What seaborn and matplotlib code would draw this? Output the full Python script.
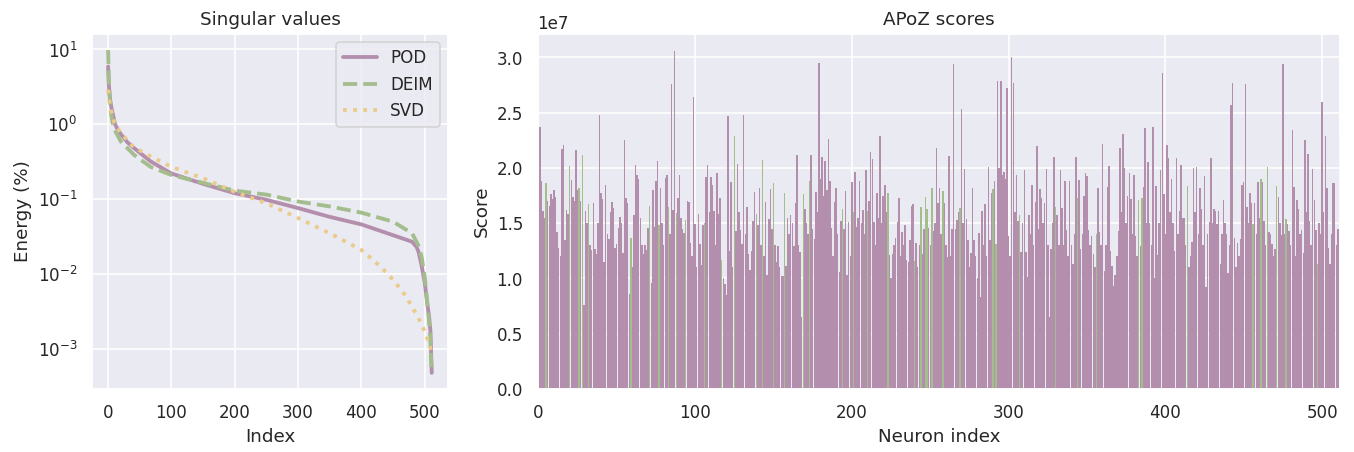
import numpy as np
import pandas as pd
import matplotlib
matplotlib.use("Agg")
import matplotlib.pyplot as plt
import seaborn as sns

# Nord-like colours used in the reference
POD_COLOR = "#B48EAD"
DEIM_COLOR = "#A3BE8C"
SVD_COLOR = "#EBCB8B"

# Singular value curves (energy %)
pod_idx = [0, 1, 3, 5, 8, 11, 15, 20, 30, 41, 67, 100, 150, 200, 250, 300, 350, 400, 450, 480, 487, 490, 495, 500, 504, 507, 509, 511]
pod_energy = [5.9, 3.5, 2.2, 1.7, 1.3, 1.0, 0.85, 0.74, 0.58, 0.48, 0.32, 0.22, 0.16, 0.12, 0.098, 0.076, 0.058, 0.046, 0.033, 0.027, 0.023, 0.020, 0.013, 0.0076, 0.004, 0.0026, 0.0017, 0.00048]

deim_idx = [0, 1, 2, 4, 7, 10, 20, 41, 67, 100, 150, 200, 250, 300, 350, 400, 450, 480, 490, 495, 500, 505, 508, 511]
deim_energy = [9.8, 4.5, 2.5, 1.5, 1.05, 0.85, 0.59, 0.39, 0.27, 0.21, 0.165, 0.13, 0.115, 0.093, 0.080, 0.066, 0.050, 0.035, 0.024, 0.017, 0.009, 0.0034, 0.0018, 0.00048]

svd_idx = [0, 2, 5, 10, 20, 30, 40, 60, 100, 150, 200, 250, 300, 350, 400, 430, 450, 470, 490, 500, 505, 510]
svd_energy = [2.9, 2.0, 1.5, 1.05, 0.76, 0.62, 0.50, 0.40, 0.27, 0.19, 0.125, 0.088, 0.056, 0.035, 0.021, 0.0126, 0.0084, 0.0051, 0.0026, 0.0017, 0.0013, 0.00095]

# APoZ score per neuron, in units of 1e7 (16 neurons per row)
apoz_e7 = [
    1.71, 2.37, 1.88, 1.61, 1.55, 1.86, 1.70, 1.66, 1.76, 1.72, 1.80, 1.74, 1.42, 1.28, 1.20, 2.17,
    2.21, 1.35, 1.62, 1.58, 2.02, 1.89, 1.74, 1.70, 2.16, 1.80, 1.82, 1.70, 2.12, 0.76, 1.61, 1.50,
    1.67, 1.30, 1.26, 1.68, 1.27, 1.22, 1.50, 2.48, 1.77, 1.72, 1.15, 1.85, 1.40, 1.36, 1.60, 1.69,
    1.64, 1.28, 1.31, 1.46, 1.56, 1.50, 1.23, 2.25, 1.73, 1.68, 0.86, 1.37, 1.10, 1.57, 2.03, 1.94,
    1.90, 1.55, 1.30, 1.22, 1.30, 1.26, 1.46, 1.66, 0.96, 1.80, 1.47, 1.88, 2.06, 1.48, 1.82, 1.50,
    1.30, 1.91, 1.94, 1.65, 1.40, 2.76, 1.62, 3.06, 1.59, 1.73, 1.94, 1.55, 1.45, 1.41, 1.53, 1.70,
    1.69, 1.32, 1.20, 2.64, 1.49, 1.10, 1.58, 1.31, 1.12, 1.48, 1.50, 1.92, 2.03, 1.60, 1.92, 1.85,
    1.61, 1.30, 1.95, 1.58, 1.73, 1.17, 1.00, 0.95, 0.85, 2.47, 1.25, 1.87, 1.10, 2.29, 1.43, 2.04,
    1.60, 1.44, 1.31, 2.48, 1.40, 1.65, 1.22, 1.08, 1.25, 1.52, 1.78, 1.58, 1.48, 1.82, 1.30, 2.07,
    1.20, 1.69, 1.03, 1.54, 1.81, 1.45, 1.86, 1.30, 1.15, 1.29, 1.10, 1.02, 1.02, 1.77, 1.11, 1.55,
    1.40, 1.57, 1.50, 1.29, 1.68, 2.12, 1.30, 1.24, 0.65, 1.76, 1.63, 1.50, 1.40, 1.88, 2.12, 1.45,
    1.36, 1.78, 1.60, 2.95, 1.90, 2.10, 1.75, 2.06, 1.80, 2.26, 1.88, 1.46, 1.20, 1.69, 1.82, 1.40,
    1.06, 1.52, 1.63, 1.45, 1.79, 1.03, 1.51, 1.20, 1.87, 1.60, 1.96, 1.47, 1.55, 1.88, 1.50, 1.62,
    1.40, 1.98, 1.61, 1.70, 2.14, 2.08, 1.51, 1.30, 1.77, 1.55, 2.29, 1.50, 1.75, 1.85, 1.60, 1.77,
    1.21, 1.00, 1.22, 1.30, 1.37, 1.51, 1.73, 1.20, 1.42, 1.30, 1.48, 1.17, 1.15, 1.35, 1.66, 1.67,
    1.16, 1.32, 1.10, 1.30, 1.65, 1.22, 1.45, 1.74, 1.63, 1.46, 1.30, 1.82, 1.43, 1.50, 2.18, 1.68,
    1.82, 1.40, 1.79, 1.68, 1.30, 1.19, 2.11, 1.20, 1.45, 2.94, 1.45, 1.53, 1.60, 1.64, 2.53, 1.50,
    1.99, 1.54, 1.35, 1.10, 1.23, 1.82, 1.35, 1.20, 1.00, 1.41, 0.83, 1.61, 1.30, 1.67, 1.20, 2.01,
    1.35, 1.77, 1.81, 1.88, 1.31, 2.79, 2.00, 2.79, 1.94, 1.96, 1.90, 2.72, 1.38, 1.20, 3.00, 2.77,
    1.60, 1.94, 1.52, 1.57, 1.24, 1.50, 1.98, 1.24, 1.01, 1.57, 1.40, 1.85, 1.30, 1.69, 2.20, 1.45,
    1.81, 1.73, 1.50, 1.68, 1.99, 1.30, 0.65, 1.27, 1.50, 2.10, 1.65, 1.57, 1.30, 1.98, 1.64, 1.30,
    1.88, 1.44, 1.20, 1.88, 1.30, 1.13, 1.40, 2.10, 1.73, 1.89, 1.27, 1.40, 1.75, 1.95, 1.93, 1.44,
    1.30, 1.38, 1.22, 1.10, 1.40, 1.82, 1.42, 1.30, 2.22, 1.07, 1.30, 1.83, 2.02, 1.25, 1.11, 0.93,
    1.03, 1.20, 1.43, 2.18, 1.60, 2.31, 2.00, 1.50, 1.75, 1.95, 1.72, 1.40, 1.94, 1.38, 1.20, 1.71,
    1.29, 1.73, 1.83, 2.36, 1.50, 2.05, 1.50, 1.30, 2.37, 1.00, 1.84, 1.21, 1.50, 1.98, 2.86, 1.76,
    1.40, 2.21, 2.09, 1.60, 1.90, 1.50, 1.25, 2.09, 1.40, 1.61, 2.03, 1.55, 1.55, 1.30, 1.84, 1.10,
    1.20, 1.33, 2.00, 1.60, 2.01, 1.40, 1.82, 1.63, 1.30, 1.93, 0.92, 1.40, 1.51, 2.09, 1.50, 1.63,
    1.61, 1.49, 1.61, 1.13, 1.40, 1.71, 1.50, 1.40, 1.05, 1.30, 2.57, 2.77, 1.37, 1.10, 1.32, 1.20,
    1.36, 1.85, 1.87, 2.76, 1.65, 1.50, 1.77, 1.68, 1.49, 1.68, 1.40, 1.87, 1.55, 1.90, 1.87, 1.52,
    1.30, 2.01, 1.42, 1.40, 1.31, 1.20, 1.27, 1.84, 1.74, 1.50, 1.39, 2.94, 1.40, 1.54, 1.49, 1.43,
    1.30, 2.34, 1.83, 1.20, 1.71, 1.63, 1.40, 1.44, 1.23, 2.25, 1.60, 2.13, 1.52, 1.30, 1.99, 1.71,
    1.44, 1.13, 1.50, 1.40, 2.60, 1.60, 2.29, 1.82, 1.28, 1.13, 1.40, 1.86, 1.86, 1.30, 1.45, 2.26,
]

# neurons drawn in green
selected = [5, 20, 26, 28, 32, 59, 71, 77, 83, 88, 94, 106, 117, 125, 139, 143, 150, 157, 169, 173,
            194, 201, 210, 223, 240, 244, 247, 248, 251, 258, 269, 290, 292, 307, 330, 344, 356,
            383, 385, 414, 456, 461, 465, 471, 477, 497]

sns.set_theme(style="darkgrid")

fig = plt.figure(figsize=(12.31, 4.11), dpi=110)
ax1 = fig.add_axes([0.0679, 0.1394, 0.2629, 0.7854])
ax2 = fig.add_axes([0.397, 0.1394, 0.5927, 0.7854])

# Left: singular values
sns.lineplot(x=pod_idx, y=pod_energy, ax=ax1, color=POD_COLOR, lw=2.5, label="POD")
sns.lineplot(x=deim_idx, y=deim_energy, ax=ax1, color=DEIM_COLOR, lw=2.5, linestyle="--", label="DEIM")
sns.lineplot(x=svd_idx, y=svd_energy, ax=ax1, color=SVD_COLOR, lw=2.5, linestyle=":", label="SVD")
ax1.set_yscale("log")
ax1.set_title("Singular values")
ax1.set_xlabel("Index")
ax1.set_ylabel("Energy (%)")
ax1.set_xticks([0, 100, 200, 300, 400, 500])
ax1.legend(loc="upper right", fontsize=11)

# Right: APoZ scores
scores = np.array(apoz_e7) * 1e7
neuron = np.arange(len(scores))
group = np.where(np.isin(neuron, selected), "selected", "other")
df = pd.DataFrame({"neuron": neuron, "score": scores, "group": group})

sns.barplot(data=df, x="neuron", y="score", hue="group", native_scale=True, dodge=False,
            palette={"other": POD_COLOR, "selected": DEIM_COLOR}, saturation=1,
            errorbar=None, legend=False, linewidth=0, width=0.92, ax=ax2)
ax2.set_xlim(-0.5, 511.5)
ax2.set_xticks([0, 100, 200, 300, 400, 500])
ax2.set_title("APoZ scores")
ax2.set_xlabel("Neuron index")
ax2.set_ylabel("Score")

fig.savefig("out.png", dpi=110)
